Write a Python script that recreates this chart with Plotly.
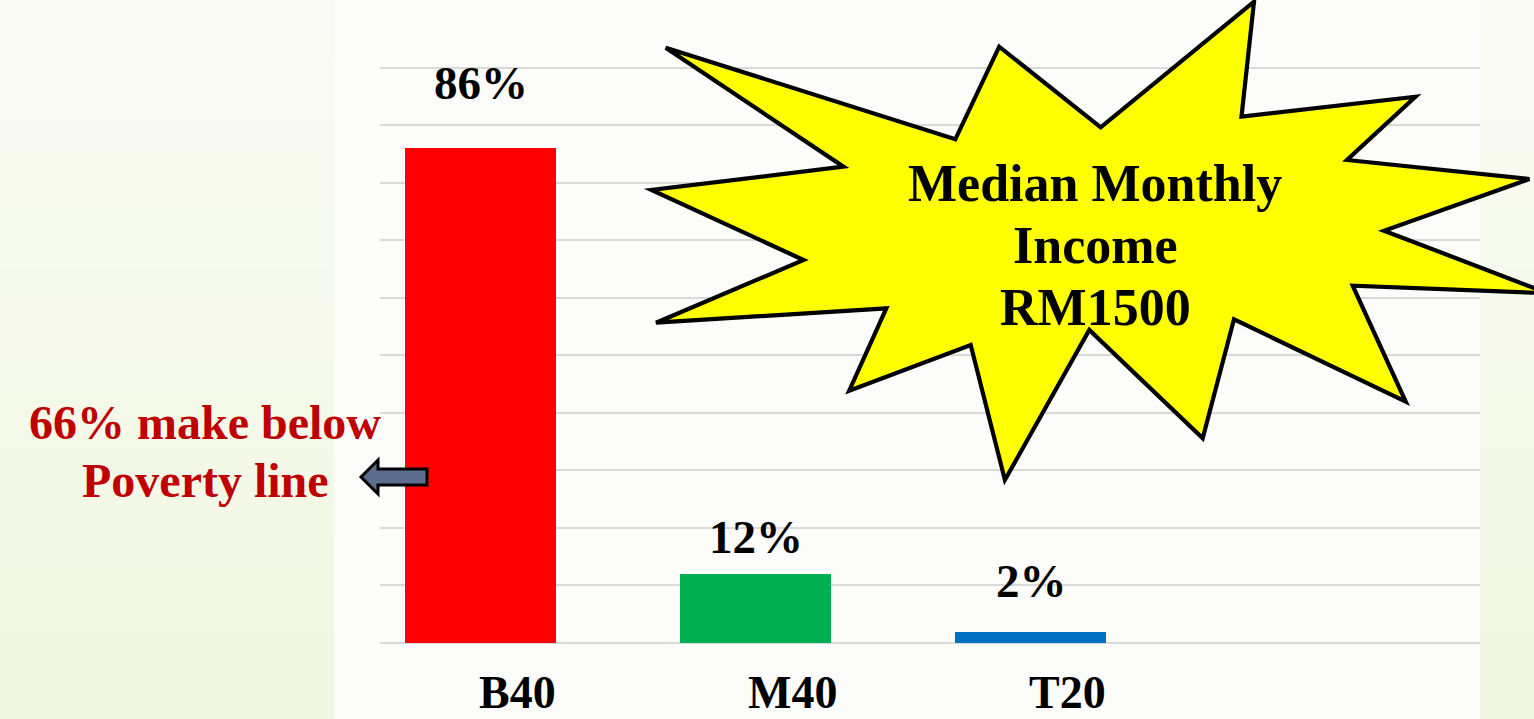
import plotly.graph_objects as go

# ---------------- data ----------------
categories = ["B40", "M40", "T20"]
shares = [86, 12, 2]
bar_colors = ["#ff0000", "#00b050", "#0070c0"]
callout_lines = ["Median Monthly", "Income", "RM1500"]
note_lines = ["66% make below", "Poverty line"]

# ---------------- geometry helpers ----------------
W, H = 1534, 719
ML, MR, MT, MB = 380, 54, 65, 76
PW, PH = W - ML - MR, H - MT - MB


def px(x):
    return (x - ML) / PW


def py(y):
    return (H - MB - y) / PH


FONT = "Liberation Serif, Times New Roman, serif"

fig = go.Figure()
fig.add_trace(go.Bar(
    x=categories, y=shares, marker=dict(color=bar_colors, line=dict(width=0)),
    width=0.549, offset=-0.409, hoverinfo="skip",
))

shapes = []
# background gradient strips (left + right), white chart panel
n = 24
top = (250, 251, 244)
bot = (241, 247, 226)
for i in range(n):
    t = i / (n - 1)
    c = tuple(round(top[k] + (bot[k] - top[k]) * t) for k in range(3))
    col = "rgb(%d,%d,%d)" % c
    y0, y1 = i * H / n, (i + 1) * H / n + 1
    for xa, xb in [(0, 334), (1480, W)]:
        shapes.append(dict(type="rect", xref="paper", yref="paper",
                           x0=px(xa), x1=px(xb), y0=py(y1), y1=py(y0),
                           fillcolor=col, line=dict(width=0), layer="below"))
shapes.append(dict(type="rect", xref="paper", yref="paper",
                   x0=px(334), x1=px(1480), y0=py(H), y1=py(0),
                   fillcolor="#fcfdfa", line=dict(width=0), layer="below"))

# starburst callout
star = [(665.7, 47.7), (843.5, 166.7), (651.4, 190), (803.6, 260), (656, 322.7),
        (886.3, 308.3), (849.2, 390.7), (970.7, 345), (1004.9, 480), (1089.3, 330),
        (1202.7, 438.3), (1234, 319.3), (1405.7, 401.7), (1352.7, 285.7),
        (1548, 293.3), (1384, 230.7), (1529.4, 179), (1347, 160), (1415.4, 96.7),
        (1241.5, 116.7), (1254, 1.7), (1100.7, 127.3), (999.2, 46.7), (955.3, 139.3)]
path = "M " + " L ".join("%.5f,%.5f" % (px(x), py(y)) for x, y in star) + " Z"
shapes.append(dict(type="path", xref="paper", yref="paper", path=path,
                   fillcolor="#ffff00", line=dict(color="black", width=4.2), layer="above"))

# block arrow pointing left
arrow = [(361, 477), (378, 460), (378, 469), (427, 469), (427, 485), (378, 485), (378, 494)]
apath = "M " + " L ".join("%.5f,%.5f" % (px(x), py(y)) for x, y in arrow) + " Z"
shapes.append(dict(type="path", xref="paper", yref="paper", path=apath,
                   fillcolor="#5b6e8e", line=dict(color="black", width=3), layer="above"))

annotations = []
# value labels
label_shift = {"B40": 65, "M40": 37, "T20": 51}
for c, v in zip(categories, shares):
    annotations.append(dict(x=c, y=v, xref="x", yref="y", text="%d%%" % v,
                            showarrow=False, xshift=-36.5, yshift=label_shift[c],
                            yanchor="middle", xanchor="center",
                            font=dict(family=FONT, size=47, color="black", weight="bold")))
# category labels
for c in categories:
    annotations.append(dict(x=c, y=py(692), xref="x", yref="paper", text=c,
                            showarrow=False, yanchor="middle", xanchor="center",
                            font=dict(family=FONT, size=46, color="black", weight="bold")))
# callout text
for i, t in enumerate(callout_lines):
    annotations.append(dict(x=px(1095), y=py(183 + 62 * i), xref="paper", yref="paper",
                            text=t, showarrow=False, yanchor="middle", xanchor="center",
                            font=dict(family=FONT, size=52, color="black", weight="bold")))
# poverty note
for i, t in enumerate(note_lines):
    annotations.append(dict(x=px(205), y=py(423 + 58 * i), xref="paper", yref="paper",
                            text=t, showarrow=False, yanchor="middle", xanchor="center",
                            font=dict(family=FONT, size=48, color="#c00000", weight="bold")))

fig.update_layout(
    width=W, height=H,
    margin=dict(l=ML, r=MR, t=MT, b=MB, pad=0),
    paper_bgcolor="#f6f9ec", plot_bgcolor="rgba(0,0,0,0)",
    showlegend=False, bargap=0,
    shapes=shapes, annotations=annotations,
    xaxis=dict(type="category", range=[-0.5, 3.5], showticklabels=False,
               showgrid=False, zeroline=False, showline=False, ticks=""),
    yaxis=dict(range=[0, 100.5], tickvals=list(range(0, 101, 10)), showticklabels=False,
               showgrid=True, gridcolor="#d9d9d9", gridwidth=1.5, zeroline=True,
               zerolinecolor="#d9d9d9", zerolinewidth=2, showline=False, ticks=""),
)

fig.write_html("out.html")
